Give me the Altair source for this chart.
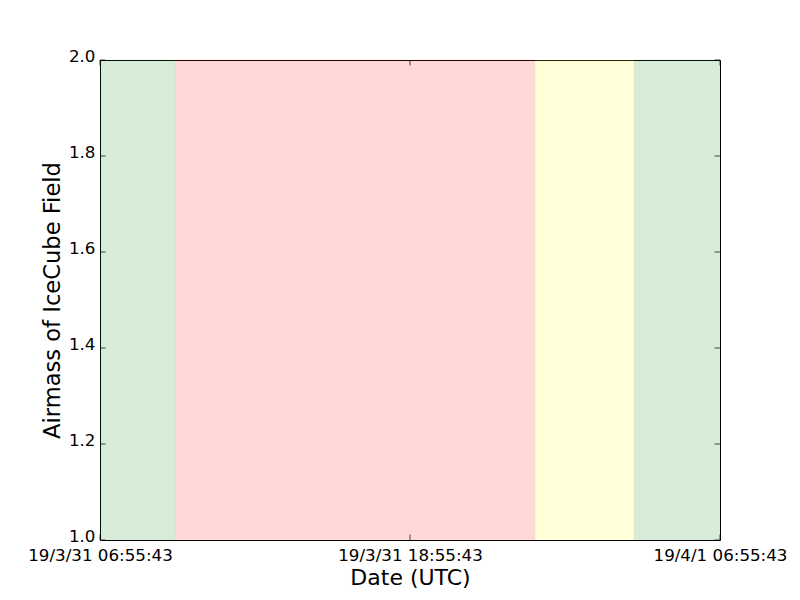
import altair as alt
import pandas as pd

# ---- data ----
span_starts = ["2019-03-31T06:55:43Z", "2019-03-31T09:50:00Z", "2019-03-31T23:46:00Z", "2019-04-01T03:36:00Z"]
span_ends = ["2019-03-31T09:50:00Z", "2019-03-31T23:46:00Z", "2019-04-01T03:36:00Z", "2019-04-01T06:55:43Z"]
span_colors = ["#008000", "#ff0000", "#ffff00", "#008000"]

y_ticks = [1.0, 1.2, 1.4, 1.6, 1.8, 2.0]
x_tick_times = ["2019-03-31T06:55:43Z", "2019-03-31T18:55:43Z", "2019-04-01T06:55:43Z"]

x_start = alt.DateTime(year=2019, month=3, date=31, hours=6, minutes=55, seconds=43, utc=True)
x_mid = alt.DateTime(year=2019, month=3, date=31, hours=18, minutes=55, seconds=43, utc=True)
x_end = alt.DateTime(year=2019, month=4, date=1, hours=6, minutes=55, seconds=43, utc=True)

spans = pd.DataFrame({"start": span_starts, "end": span_ends, "color": span_colors})
yt_left = pd.DataFrame({"v": y_ticks, "t": [x_tick_times[0]] * len(y_ticks)})
yt_right = pd.DataFrame({"v": y_ticks, "t": [x_tick_times[-1]] * len(y_ticks)})
xt = pd.DataFrame({"t": x_tick_times, "lo": [1.0] * 3, "hi": [2.0] * 3})

FONT = "DejaVu Sans"
xscale = alt.Scale(type="utc", domain=[x_start, x_end])
yscale = alt.Scale(domain=[1.0, 2.0], nice=False, zero=False)

xaxis = alt.Axis(
    values=[x_start, x_mid, x_end],
    format="%y/%-m/%-d %H:%M:%S",
    formatType="time",
    labelAngle=0,
    labelFont=FONT, labelFontSize=16.7, labelColor="black",
    labelOverlap=False, labelBound=False, labelFlush=False,
    labelPadding=7.5,
    ticks=False, domain=False, grid=False,
    title="Date (UTC)", titleFont=FONT, titleFontSize=22, titleFontWeight="normal",
    titleColor="black", titlePadding=3,
)
yaxis = alt.Axis(
    values=y_ticks, format=".1f",
    labelFont=FONT, labelFontSize=16.7, labelColor="black",
    labelPadding=5, labelOffset=-4, ticks=False, domain=False, grid=False,
    labelOverlap=False, labelBound=False, labelFlush=False,
    title="Airmass of IceCube Field", titleFont=FONT, titleFontSize=22.6,
    titleFontWeight="normal", titleColor="black", titlePadding=4,
)

X = lambda f: alt.X(f, scale=xscale, axis=xaxis, title="Date (UTC)")
Y = lambda f: alt.Y(f, scale=yscale, axis=yaxis, title="Airmass of IceCube Field")

rects = alt.Chart(spans).mark_rect(opacity=0.15, strokeWidth=1, strokeOpacity=0.3).encode(
    x=X("start:T"),
    x2="end:T",
    fill=alt.Color("color:N", scale=None),
    stroke=alt.Color("color:N", scale=None),
)

tick_len = 5.5
left_ticks = alt.Chart(yt_left).mark_tick(orient="horizontal", size=tick_len, thickness=1, color="black", xOffset=tick_len / 2).encode(
    x=X("t:T"), y=Y("v:Q")
)
right_ticks = alt.Chart(yt_right).mark_tick(orient="horizontal", size=tick_len, thickness=1, color="black", xOffset=-tick_len / 2).encode(
    x=X("t:T"), y=Y("v:Q")
)
bottom_ticks = alt.Chart(xt).mark_tick(orient="vertical", size=tick_len, thickness=1, color="black", yOffset=-tick_len / 2).encode(
    x=X("t:T"), y=Y("lo:Q")
)
top_ticks = alt.Chart(xt).mark_tick(orient="vertical", size=tick_len, thickness=1, color="black", yOffset=tick_len / 2).encode(
    x=X("t:T"), y=Y("hi:Q")
)

chart = alt.layer(rects, left_ticks, right_ticks, bottom_ticks, top_ticks).properties(
    width=620, height=480,
    autosize=alt.AutoSizeParams(type="none"),
    padding={"left": 92, "top": 52, "right": 72, "bottom": 52},
    background="white",
).configure_view(stroke="black", strokeWidth=1)

chart.save("out.html", embed_options={"renderer": "svg", "actions": False})
